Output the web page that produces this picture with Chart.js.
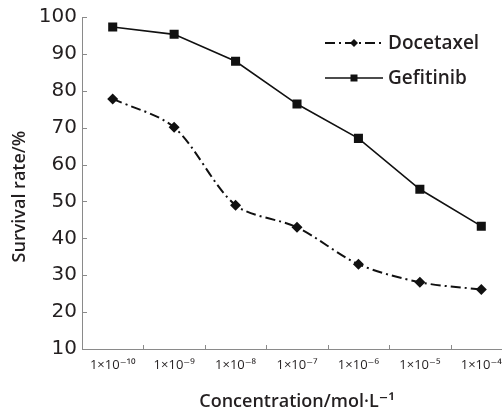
<!DOCTYPE html>
<html>
<head>
<meta charset="utf-8">
<script src="https://cdn.jsdelivr.net/npm/chart.js@4"></script>
<style>
  html, body { margin: 0; padding: 0; background: #fff; overflow: hidden; }
  #wrap { width: 520px; height: 411px; }
</style>
</head>
<body>
<div id="wrap"><canvas id="survival" width="520" height="411"></canvas></div>
<script>
// DATEN
const concentrationLabels = ['1×10⁻¹⁰', '1×10⁻⁹', '1×10⁻⁸', '1×10⁻⁷', '1×10⁻⁶', '1×10⁻⁵', '1×10⁻⁴'];
const docetaxel = [77.8, 70.1, 49, 43, 33, 28.1, 26.1];
const gefitinib = [97.3, 95.3, 88, 76.4, 67.1, 53.3, 43.3];
const yTicks = [10, 20, 30, 40, 50, 60, 70, 80, 90, 100];

const ink = '#231f20';
const axisColor = '#8a8a8a';
const fontName = '"Open Sans", "DejaVu Sans", sans-serif';

// Tickmarks nach innen
const innerTicks = {
    id: 'innerTicks',
    afterDatasetsDraw(chart) {
        const { ctx, chartArea, scales } = chart;
        ctx.save();
        ctx.strokeStyle = axisColor;
        ctx.lineWidth = 1;
        scales.y.ticks.forEach((t, i) => {
            const py = Math.round(scales.y.getPixelForTick(i)) + 0.5;
            ctx.beginPath();
            ctx.moveTo(chartArea.left, py);
            ctx.lineTo(chartArea.left + 5, py);
            ctx.stroke();
        });
        for (let i = 1; i < scales.x.ticks.length; i++) {
            const px = Math.round((scales.x.getPixelForTick(i - 1) + scales.x.getPixelForTick(i)) / 2) + 0.5;
            ctx.beginPath();
            ctx.moveTo(px, chartArea.bottom);
            ctx.lineTo(px, chartArea.bottom - 4);
            ctx.stroke();
        }
        ctx.restore();
    }
};

// Legende im Diagramm oben rechts
const innerLegend = {
    id: 'innerLegend',
    afterDraw(chart) {
        const { ctx, chartArea } = chart;
        const x0 = chartArea.right - 187;
        const len = 58;
        ctx.save();
        chart.data.datasets.forEach((ds, i) => {
            const y = chartArea.top + 26 + i * 35;
            ctx.strokeStyle = ds.borderColor;
            ctx.lineWidth = ds.borderWidth;
            ctx.setLineDash(ds.borderDash || []);
            ctx.beginPath();
            ctx.moveTo(x0, y);
            ctx.lineTo(x0 + len, y);
            ctx.stroke();
            ctx.setLineDash([]);
            ctx.fillStyle = ds.pointBackgroundColor;
            const mx = x0 + len / 2;
            ctx.beginPath();
            if (ds.pointStyle === 'rectRot') {
                ctx.moveTo(mx - 4, y);
                ctx.lineTo(mx, y - 4);
                ctx.lineTo(mx + 4, y);
                ctx.lineTo(mx, y + 4);
            } else {
                ctx.rect(mx - 3.5, y - 3.5, 7, 7);
            }
            ctx.fill();
            ctx.fillStyle = ink;
            ctx.font = '600 19px ' + fontName;
            ctx.textBaseline = 'middle';
            ctx.fillText(ds.label, x0 + len + 5, y + 1);
        });
        ctx.restore();
    }
};

const ctx = document.getElementById('survival');
new Chart(ctx, {
    type: 'line',
    data: {
        labels: concentrationLabels,
        datasets: [{
            label: 'Docetaxel',
            data: docetaxel,
            borderColor: '#111',
            borderWidth: 2,
            borderDash: [10, 4, 2, 4],
            pointStyle: 'rectRot',
            pointRadius: 5.5,
            pointBackgroundColor: '#111',
            pointBorderWidth: 0,
            tension: 0.3
        }, {
            label: 'Gefitinib',
            data: gefitinib,
            borderColor: '#111',
            borderWidth: 1.6,
            pointStyle: 'rect',
            pointRadius: 6.4,
            pointBackgroundColor: '#111',
            pointBorderWidth: 0,
            tension: 0
        }]
    },
    options: {
        responsive: false,
        animation: false,
        devicePixelRatio: 1,
        layout: {
            padding: { top: 16, right: 8, left: 0, bottom: 0 }
        },
        plugins: {
            legend: { display: false },
            tooltip: { enabled: false }
        },
        scales: {
            x: {
                offset: true,
                grid: { drawOnChartArea: false, drawTicks: false },
                border: { display: true, color: axisColor, width: 1 },
                ticks: {
                    color: ink,
                    padding: 8,
                    maxRotation: 0,
                    autoSkip: false,
                    font: { family: fontName, size: 13 }
                },
                title: {
                    display: true,
                    text: 'Concentration/mol·L⁻¹',
                    color: ink,
                    padding: 0,
                    font: { family: fontName, size: 18, weight: '600', lineHeight: 1.0 }
                },
                afterFit(scale) { scale.height = 62; }
            },
            y: {
                min: 10,
                max: 100,
                grid: { drawOnChartArea: false, drawTicks: false },
                border: { display: true, color: axisColor, width: 1 },
                afterBuildTicks(scale) { scale.ticks = yTicks.map(v => ({ value: v })); },
                ticks: {
                    color: ink,
                    padding: 5,
                    font: { family: '"DejaVu Sans", sans-serif', size: 20, weight: 'normal' }
                },
                title: {
                    display: true,
                    text: 'Survival rate/%\u2003\u2002',
                    color: ink,
                    padding: { top: 10, bottom: 0 },
                    font: { family: fontName, size: 18, weight: '600', lineHeight: 1.1 }
                },
                afterFit(scale) { scale.width = 82; }
            }
        }
    },
    plugins: [innerTicks, innerLegend]
});
</script>
</body>
</html>
